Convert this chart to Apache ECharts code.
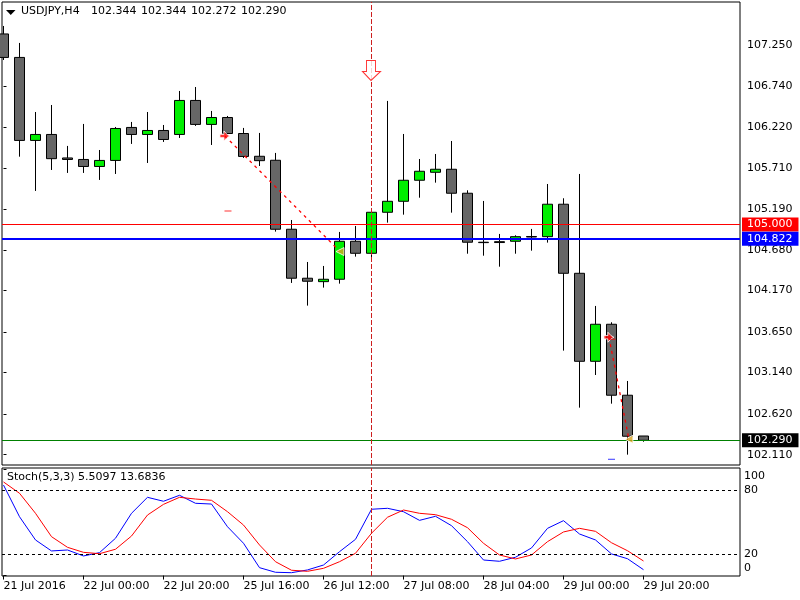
<!DOCTYPE html>
<html>
<head>
<meta charset="utf-8">
<title>USDJPY,H4</title>
<style>html,body{margin:0;padding:0;background:#fff}#chart{width:800px;height:600px}</style>
<script src="https://cdn.jsdelivr.net/npm/echarts@6/dist/echarts.min.js"></script>
</head>
<body>
<div id="chart"></div>
<script>
// USDJPY H4 bars, one entry per 4-hour candle
const opens = [107.392,107.097,106.055,106.130,105.835,105.816,105.728,105.804,106.218,106.130,106.180,106.130,106.557,106.256,106.343,106.142,105.856,105.806,104.940,104.325,104.282,104.312,104.789,104.638,105.153,105.291,105.555,105.655,105.693,105.392,104.777,104.784,104.789,104.849,104.847,105.254,104.387,103.282,103.747,102.856,102.344];
const highs = [107.492,107.279,106.412,106.500,105.986,106.262,105.935,106.224,106.287,106.412,106.249,106.676,106.726,106.425,106.362,106.212,106.149,105.898,105.056,104.529,104.479,104.906,104.981,105.207,106.551,106.136,105.822,105.885,106.048,105.429,105.295,104.881,104.864,104.944,105.508,105.329,105.634,103.977,103.772,103.035,102.344];
const lows = [107.065,105.851,105.421,105.684,105.647,105.647,105.559,105.634,106.011,105.772,106.036,106.086,106.237,105.998,106.130,105.835,105.734,104.910,104.266,103.981,104.207,104.257,104.596,104.592,105.023,105.123,105.336,105.525,105.148,104.633,104.608,104.470,104.633,104.671,104.772,103.416,102.700,103.110,102.750,102.110,102.272];
const closes = [107.097,106.055,106.130,105.826,105.816,105.728,105.804,106.205,106.130,106.180,106.067,106.557,106.256,106.343,106.142,105.854,105.801,104.940,104.325,104.287,104.312,104.789,104.638,105.153,105.291,105.555,105.668,105.693,105.392,104.777,104.772,104.773,104.847,104.842,105.254,104.387,103.282,103.747,102.856,102.341,102.290];

// Stochastic oscillator (5,3,3)
const stochMain = [84.9,55.2,33.4,23.1,24.0,18.4,21.5,35.0,58.4,73.4,69.7,75.3,67.8,67.1,45.8,30.3,7.4,3.1,2.7,5.3,9.9,22.4,34.0,62.2,63.1,59.9,51.8,55.6,46.8,31.8,14.6,13.4,17.2,25.9,44.3,51.5,39.0,33.4,20.3,15.8,5.5097];
const stochSignal = [87.8,77.2,58.4,36.5,26.5,21.8,20.5,24.7,37.1,56.8,66.8,73.4,71.8,70.6,59.9,47.4,28.7,13.0,5.0,4.0,6.8,13.0,20.9,39.7,54.7,61.5,58.4,57.1,52.8,44.9,30.3,19.3,15.6,19.3,31.8,40.9,44.3,41.5,30.8,23.3,13.6836];

// Axis ticks
const timeTickBars = [0,5,10,15,20,25,30,35,40];
const timeTickLabels = ['21 Jul 2016','22 Jul 00:00','22 Jul 20:00','25 Jul 16:00','26 Jul 12:00','27 Jul 08:00','28 Jul 04:00','29 Jul 00:00','29 Jul 20:00'];
const priceTicks = [107.25,106.74,106.22,105.71,105.19,104.68,104.17,103.65,103.14,102.62,102.11];
const stochTicks = [0,100];
const stochLevels = [80,20];
const stochLabelValues = [93.4,80,20,7.1];
const stochLabelTexts = ['100','80','20','0'];

// Horizontal price levels: target, entry, current bid
const levelPrices = [105,104.822,102.29];
const levelColors = ['#ff0000','#0000ff','#008000'];
const levelWidths = [1,2,1];
const levelTagColors = ['#ff0000','#0000ff','#000000'];

// Closed trades, arrows and stops
const tradeStarts = [[13.84,106.111],[37.84,103.584]];
const tradeEnds = [[21.03,104.66],[39.09,102.303]];
const redStops = [[14.03,105.169],[38.03,103.559]];
const blueStops = [[38,102.052]];
const signalArrow = [[23,106.933]];
const cursorBar = 23;

const headerValues = ['102.344','102.344','102.272','102.290'];
const stochHeader = 'Stoch(5,3,3) 5.5097 13.6836';

const FONT = '"DejaVu Sans"';
const bars = opens.map((o, i) => [i, o, closes[i], lows[i], highs[i]]);

const titles = [
  { text: 'USDJPY,H4', left: 21, top: 6 },
  ...headerValues.map((t, k) => ({ text: t, left: 91 + 50 * k, top: 6 })),
  { text: stochHeader, left: 7, top: 472 }
].map(t => ({ ...t, padding: 0, textStyle: { fontFamily: FONT, fontSize: 11, fontWeight: 'normal', color: '#000' } }));

const cursorLine = {
  xAxis: cursorBar,
  lineStyle: { color: '#cc1f1f', type: [5, 2], width: 1 },
  label: { show: false }
};

const option = {
  animation: false,
  backgroundColor: '#ffffff',
  title: titles,
  graphic: [{
    type: 'polygon',
    shape: { points: [[6, 10], [15.5, 10], [10.75, 15]] },
    style: { fill: '#000' }
  }],
  grid: [
    { left: 2, top: 2, width: 738, height: 463, show: true, backgroundColor: '#fff', borderColor: '#000', borderWidth: 1 },
    { left: 2, top: 468, width: 738, height: 108, show: true, backgroundColor: '#fff', borderColor: '#000', borderWidth: 1 }
  ],
  xAxis: [
    { type: 'value', gridIndex: 0, min: -0.09375, max: 46.03125, show: false, splitLine: { show: false } },
    {
      type: 'value', gridIndex: 1, min: -0.09375, max: 46.03125,
      axisLine: { show: false },
      splitLine: { show: false },
      axisTick: { show: true, length: 4, inside: false, customValues: timeTickBars, lineStyle: { color: '#000' } },
      axisLabel: {
        show: true, customValues: timeTickBars, margin: 5, align: 'left',
        fontFamily: FONT, fontSize: 11, color: '#000',
        formatter: v => timeTickLabels[timeTickBars.indexOf(v)]
      }
    }
  ],
  yAxis: [
    {
      type: 'value', gridIndex: 0, position: 'right', min: 101.980, max: 107.793,
      axisLine: { show: false },
      splitLine: { show: false },
      axisTick: { show: true, length: 3, customValues: priceTicks, lineStyle: { color: '#000' } },
      axisLabel: {
        show: true, customValues: priceTicks, margin: 7,
        fontFamily: FONT, fontSize: 11, color: '#000',
        formatter: v => v.toFixed(3)
      }
    },
    {
      type: 'value', gridIndex: 1, position: 'right', min: -0.4, max: 100.9,
      axisLine: { show: false },
      splitLine: { show: false },
      axisTick: { show: true, length: 3, customValues: stochTicks, lineStyle: { color: '#000' } },
      axisLabel: {
        show: true, customValues: stochLabelValues, margin: 4,
        fontFamily: FONT, fontSize: 11, color: '#000',
        formatter: v => stochLabelTexts[stochLabelValues.indexOf(v)]
      }
    }
  ],
  series: [
    {
      type: 'candlestick', name: 'USDJPY', xAxisIndex: 0, yAxisIndex: 0,
      data: bars, encode: { x: 0, y: [1, 2, 3, 4] },
      barWidth: 10,
      itemStyle: {
        color: '#00ee00', color0: '#666666',
        borderColor: '#000', borderColor0: '#000', borderWidth: 1
      },
      z: 2
    },
    {
      type: 'line', name: 'levels', xAxisIndex: 0, yAxisIndex: 0, data: [], z: 3,
      markLine: {
        silent: true, symbol: 'none', animation: false,
        data: levelPrices.map((p, i) => ({
          yAxis: p,
          lineStyle: { color: levelColors[i], width: levelWidths[i], type: 'solid' },
          label: {
            show: true, position: 'end', distance: 2,
            formatter: p.toFixed(3),
            fontFamily: FONT, fontSize: 11,
            color: '#ffffff', backgroundColor: levelTagColors[i],
            padding: [2, 6, 1, 5]
          }
        })).concat([cursorLine])
      }
    },
    ...tradeStarts.map((s, i) => ({
      type: 'line', name: 'trade' + i, xAxisIndex: 0, yAxisIndex: 0, z: 4,
      data: [s, tradeEnds[i]], showSymbol: false, symbol: 'none',
      lineStyle: { color: '#ff0000', width: 1.3, type: [3, 4] }
    })),
    {
      type: 'scatter', name: 'entries', xAxisIndex: 0, yAxisIndex: 0, z: 5, data: tradeStarts,
      symbol: 'path://M0,4 L4,4 L4,0 L7,4 L10,6 L7,8 L4,12 L4,8 L0,8 Z', symbolSize: 10,
      itemStyle: { color: '#ff0000', borderColor: '#ffffff', borderWidth: 1 }
    },
    {
      type: 'scatter', name: 'exits', xAxisIndex: 0, yAxisIndex: 0, z: 5, data: tradeEnds,
      symbol: 'triangle', symbolRotate: 90, symbolSize: 8,
      itemStyle: { color: '#daa520', borderColor: '#ffffff', borderWidth: 1 }
    },
    {
      type: 'scatter', name: 'redStops', xAxisIndex: 0, yAxisIndex: 0, z: 5, data: redStops,
      symbol: 'rect', symbolSize: [7, 1], itemStyle: { color: '#ff0000' }
    },
    {
      type: 'scatter', name: 'blueStops', xAxisIndex: 0, yAxisIndex: 0, z: 5, data: blueStops,
      symbol: 'rect', symbolSize: [7, 1], itemStyle: { color: '#0000ff' }
    },
    {
      type: 'scatter', name: 'signal', xAxisIndex: 0, yAxisIndex: 0, z: 6, data: signalArrow,
      symbol: 'path://M4,0 L13,0 L13,11 L18,11 L8.5,20 L0,11 L4,11 Z', symbolSize: [18, 20],
      itemStyle: { color: '#ffffff', borderColor: '#ff0000', borderWidth: 1 }
    },
    {
      type: 'line', name: 'Main', xAxisIndex: 1, yAxisIndex: 1, z: 3,
      data: stochMain.map((v, i) => [i, v]), symbol: 'none',
      lineStyle: { color: '#0000ff', width: 1 },
      markLine: {
        silent: true, symbol: 'none', animation: false,
        data: stochLevels.map(l => ({
          yAxis: l,
          lineStyle: { color: '#000', type: [3, 3], width: 1 },
          label: { show: false }
        })).concat([cursorLine])
      }
    },
    {
      type: 'line', name: 'Signal', xAxisIndex: 1, yAxisIndex: 1, z: 4,
      data: stochSignal.map((v, i) => [i, v]), symbol: 'none',
      lineStyle: { color: '#ff0000', width: 1 }
    }
  ]
};

echarts.init(document.getElementById('chart'), null, { renderer: 'canvas' }).setOption(option);
</script>
</body>
</html>
